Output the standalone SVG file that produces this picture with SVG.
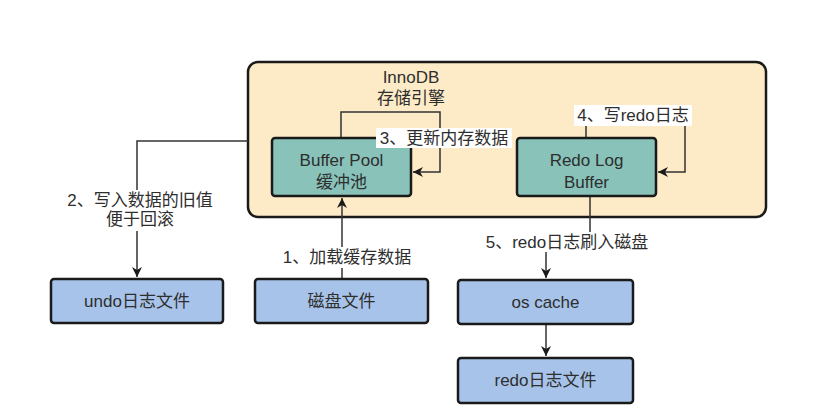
<svg xmlns="http://www.w3.org/2000/svg" width="829" height="410" viewBox="0 0 829 410">
<defs>
<marker id="arr" viewBox="0 0 10 10" refX="10" refY="5" markerWidth="10" markerHeight="10" markerUnits="userSpaceOnUse" orient="auto">
<path d="M0,0 L10,5 L0,10 L3,5 Z" fill="#1a1a1a"/>
</marker>
</defs>
<style>
text{font-family:"Liberation Sans","Noto Sans CJK SC",sans-serif;font-size:17px;fill:#2e2e2e;text-anchor:middle}
.teal{fill:#88c2b9;stroke:#1a1a1a;stroke-width:2.5}
.blue{fill:#a7c3e9;stroke:#1a1a1a;stroke-width:2.5}
.conn{fill:none;stroke:#333;stroke-width:1.5}
.bg{fill:#ffffff}
</style>
<rect width="829" height="410" fill="#ffffff"/>
<g id="innodb">
<rect x="248" y="62" width="518" height="155" rx="10" fill="#fdebc7" stroke="#1a1a1a" stroke-width="2.5"/>
<text x="411" y="83">InnoDB</text>
<text x="411" y="104">存储引擎</text>
</g>
<g id="connectors">
<path class="conn" d="M341,138 V112 H440 V172 H413" marker-end="url(#arr)"/>
<path class="conn" d="M586,138 V115 H685 V172 H658" marker-end="url(#arr)"/>
<path class="conn" d="M248,141 H137 V277" marker-end="url(#arr)"/>
<path class="conn" d="M342,279 V198" marker-end="url(#arr)"/>
<path class="conn" d="M590,197 V240 H546 V278" marker-end="url(#arr)"/>
<path class="conn" d="M546,324 V356" marker-end="url(#arr)"/>
</g>
<g id="bufferpool">
<rect class="teal" x="272" y="138" width="139" height="58" rx="3"/>
<text x="341.5" y="166">Buffer Pool</text>
<text x="341.5" y="188">缓冲池</text>
</g>
<g id="redologbuffer">
<rect class="teal" x="517" y="138" width="139" height="58" rx="3"/>
<text x="586.5" y="166">Redo Log</text>
<text x="586.5" y="188">Buffer</text>
</g>
<g id="undo">
<rect class="blue" x="51" y="279" width="172" height="44" rx="3"/>
<text x="137" y="307">undo日志文件</text>
</g>
<g id="disk">
<rect class="blue" x="255" y="279" width="173" height="44" rx="3"/>
<text x="341.5" y="307">磁盘文件</text>
</g>
<g id="oscache">
<rect class="blue" x="458" y="280" width="175" height="44" rx="3"/>
<text x="545.5" y="308">os cache</text>
</g>
<g id="redofile">
<rect class="blue" x="458" y="358" width="175" height="45" rx="3"/>
<text x="545.5" y="386">redo日志文件</text>
</g>
<g id="label3"><rect class="bg" x="376" y="128" width="136" height="20"/><text x="444" y="144">3、更新内存数据</text></g>
<g id="label4"><rect class="bg" x="574" y="105" width="118" height="21"/><text x="633" y="121">4、写redo日志</text></g>
<g id="label2"><rect class="bg" x="62" y="190" width="156" height="41"/><text x="140" y="206">2、写入数据的旧值</text><text x="140" y="225">便于回滚</text></g>
<g id="label1"><rect class="bg" x="279" y="247" width="136" height="21"/><text x="347" y="263">1、加载缓存数据</text></g>
<g id="label5"><rect class="bg" x="488" y="232" width="158" height="20"/><text x="567" y="248">5、redo日志刷入磁盘</text></g>
</svg>
